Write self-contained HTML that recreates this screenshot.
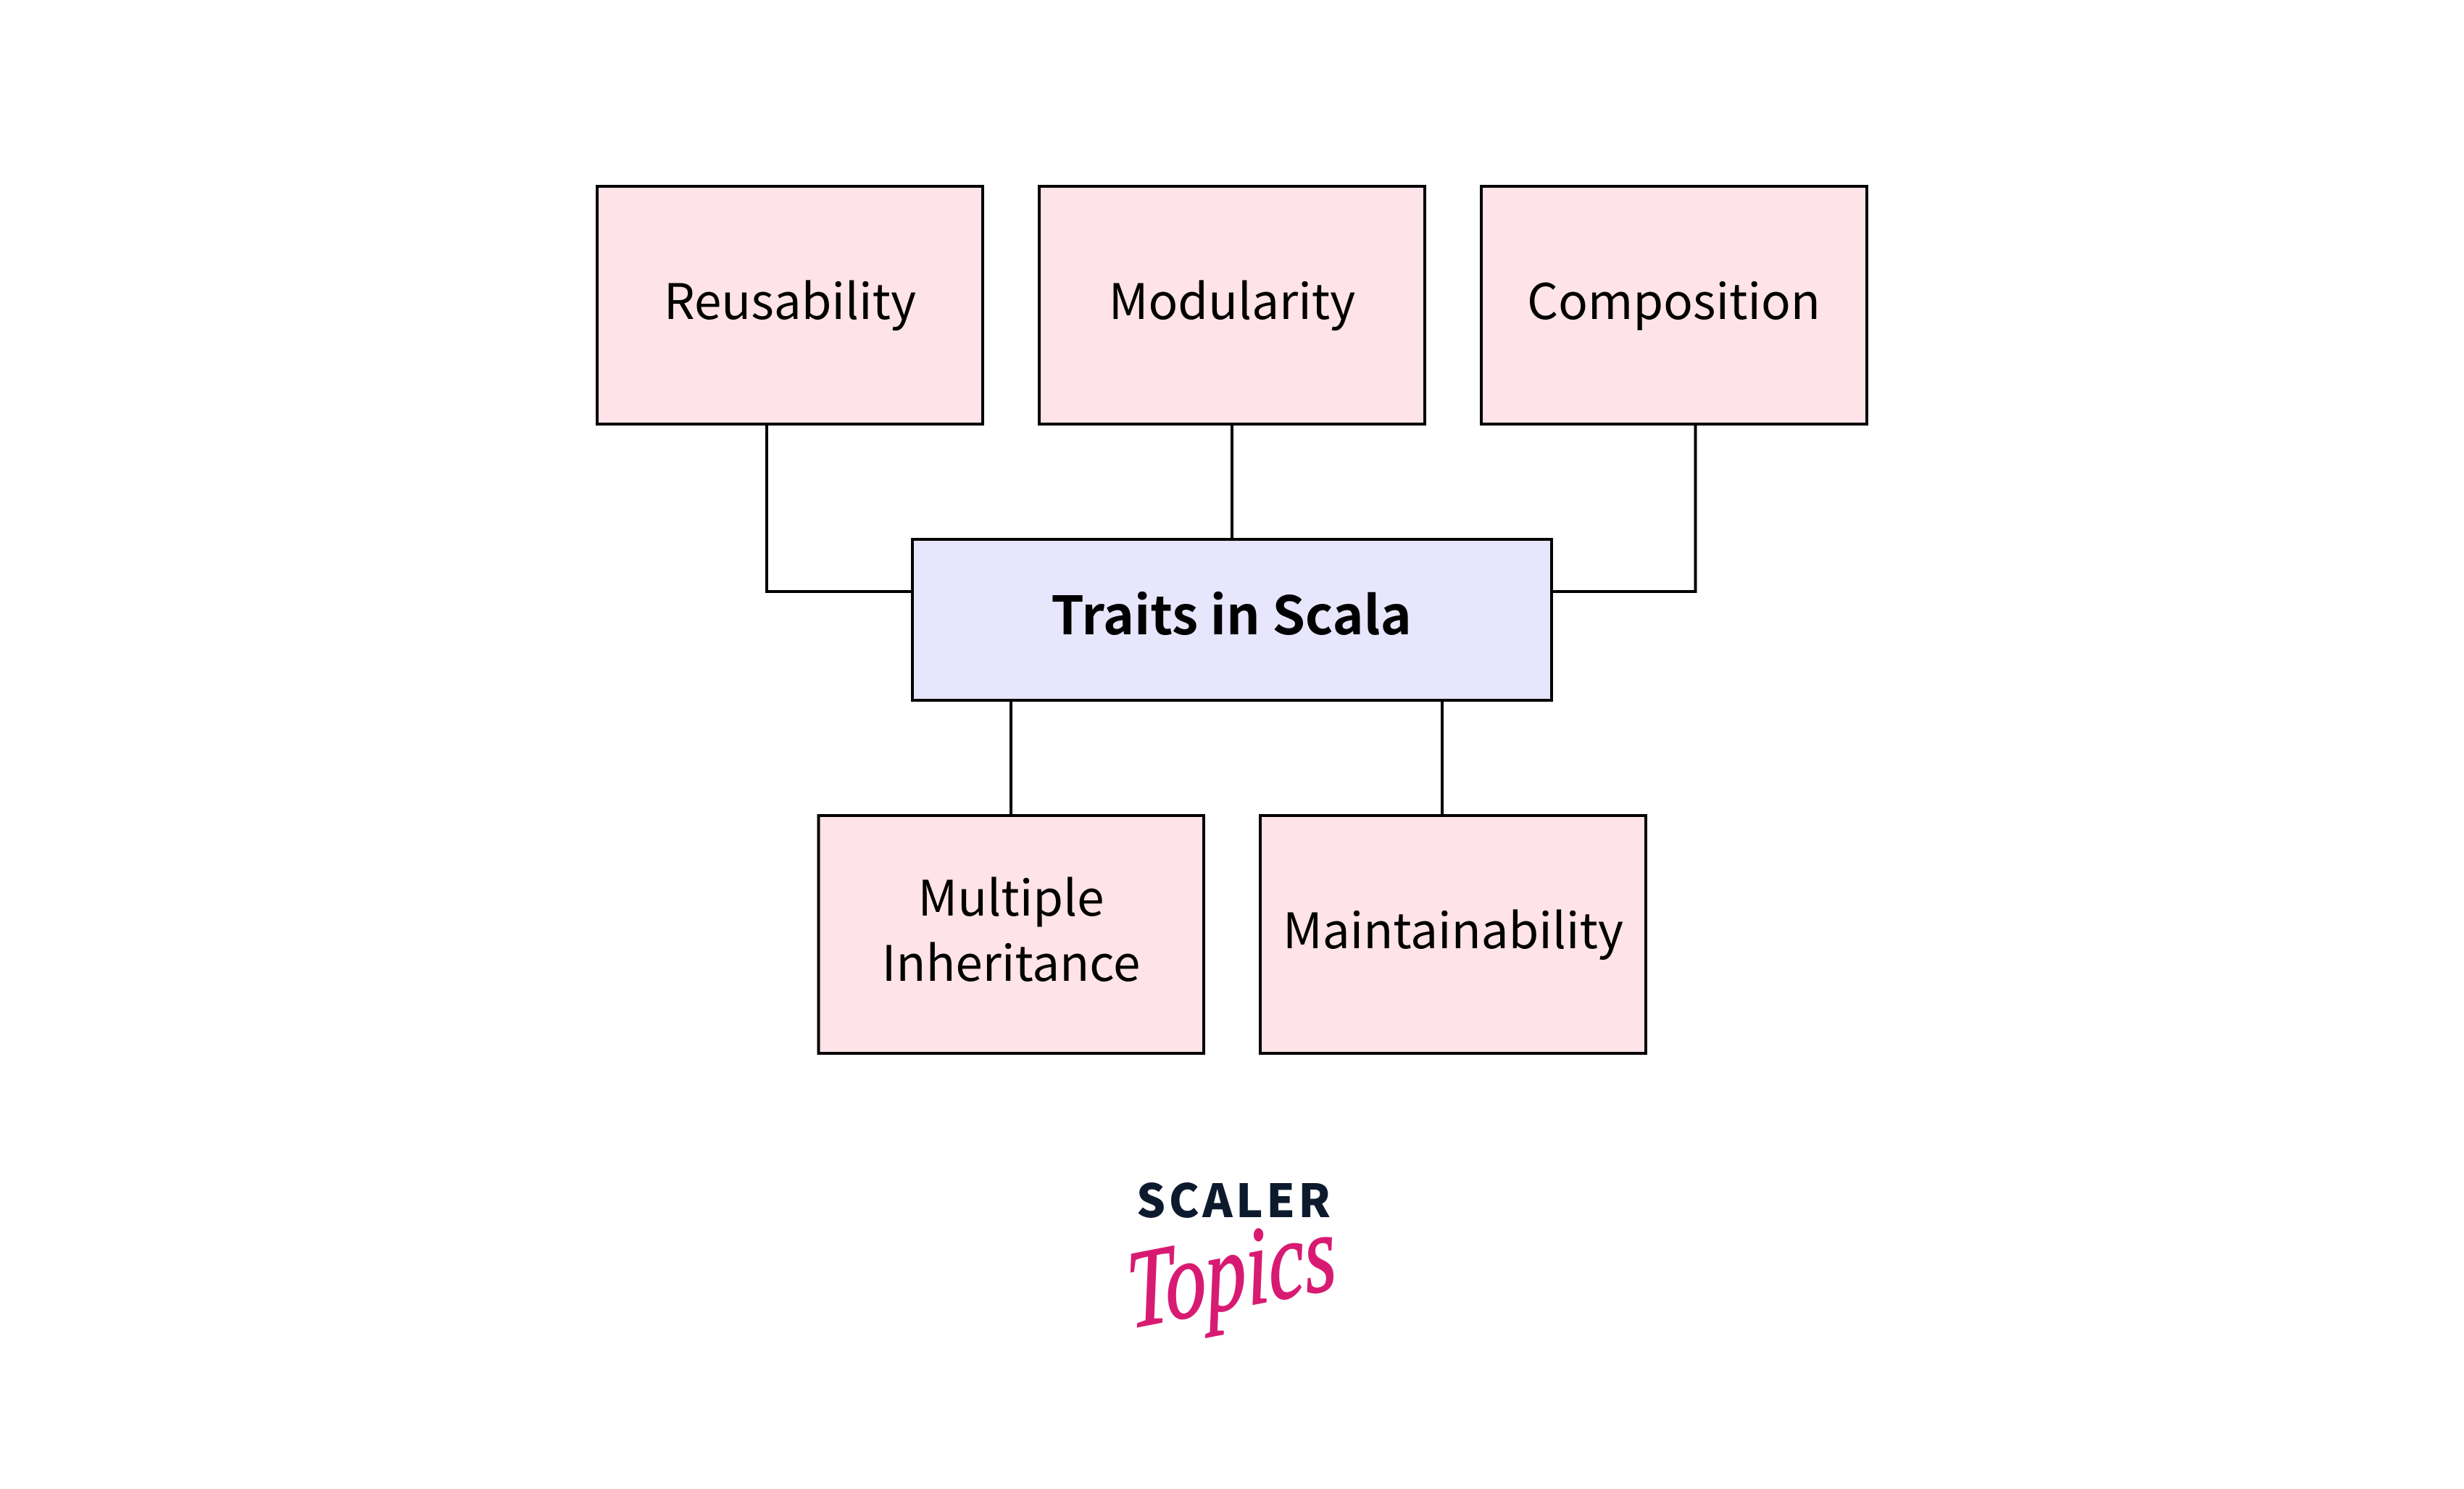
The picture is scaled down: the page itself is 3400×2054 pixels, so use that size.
<!DOCTYPE html>
<html>
<head>
<meta charset="utf-8">
<style>
html,body{margin:0;padding:0;background:#fff;width:3400px;height:2054px;overflow:hidden}
svg{display:block}
.t{font-family:"Noto Sans CJK JP","Liberation Sans",sans-serif;font-size:67.4px;fill:#000;text-anchor:middle}
.b{font-weight:700;font-size:73px}
rect{stroke:#000;stroke-width:4}
.l{fill:none;stroke:#000;stroke-width:4}
</style>
</head>
<body>
<svg width="3400" height="2054" viewBox="0 0 3400 2054" xmlns="http://www.w3.org/2000/svg">
<rect width="3400" height="2054" fill="#fff" style="stroke:none"/>
<path class="l" d="M1058 585V816H1259"/>
<path class="l" d="M1700 585V744"/>
<path class="l" d="M2339.5 585V816H2141"/>
<path class="l" d="M1395 966V1125"/>
<path class="l" d="M1990 966V1125"/>
<rect x="824" y="257" width="532" height="328" fill="#fee3e8"/>
<rect x="1434" y="257" width="532" height="328" fill="#fee3e8"/>
<rect x="2044" y="257" width="532" height="328" fill="#fee3e8"/>
<rect x="1259" y="744" width="882" height="222" fill="#e7e6fd"/>
<rect x="1129.5" y="1125" width="531.5" height="328" fill="#fee3e8"/>
<rect x="1739" y="1125" width="532" height="328" fill="#fee3e8"/>
<text class="t" x="1090" y="440">Reusability</text>
<text class="t" x="1700" y="440">Modularity</text>
<text class="t" x="2309.5" y="440">Composition</text>
<text class="t b" x="1699" y="875">Traits in Scala</text>
<text class="t" x="1395" y="1263">Multiple</text>
<text class="t" x="1395" y="1353">Inheritance</text>
<text class="t" x="2005" y="1308">Maintainability</text>
<text x="1568" y="1679" textLength="268" lengthAdjust="spacing" style="font-family:'Noto Sans CJK JP','Liberation Sans',sans-serif;font-weight:900;font-size:63px;fill:#0d1a2e">SCALER</text>
<text transform="translate(1560 1832) rotate(-11) skewX(-6)" textLength="292" lengthAdjust="spacingAndGlyphs" style="font-family:'Liberation Serif',serif;font-style:italic;font-size:152px;fill:#d81b72;stroke:#d81b72;stroke-width:2">Topics</text>
</svg>
</body>
</html>
